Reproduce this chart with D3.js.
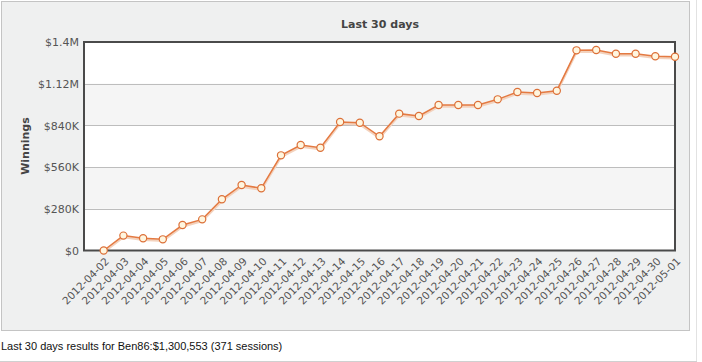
<!DOCTYPE html>
<html>
<head>
<meta charset="utf-8">
<script src="https://cdn.jsdelivr.net/npm/d3@7"></script>
<style>
  body { margin: 0; background: #fff; }
  svg text { font-family: Verdana, "DejaVu Sans", sans-serif; }
</style>
</head>
<body>
<div id="chart"></div>
<script>
// data
var dates = ["2012-04-02","2012-04-03","2012-04-04","2012-04-05","2012-04-06","2012-04-07",
  "2012-04-08","2012-04-09","2012-04-10","2012-04-11","2012-04-12","2012-04-13","2012-04-14",
  "2012-04-15","2012-04-16","2012-04-17","2012-04-18","2012-04-19","2012-04-20","2012-04-21",
  "2012-04-22","2012-04-23","2012-04-24","2012-04-25","2012-04-26","2012-04-27","2012-04-28",
  "2012-04-29","2012-04-30","2012-05-01"];
var winnings = [0, 100000, 82000, 75000, 171000, 209000, 344000, 440000, 418000, 639000,
  708000, 690000, 863000, 858000, 767000, 919000, 903000, 977000, 977000, 977000,
  1015000, 1064000, 1058000, 1073000, 1344000, 1346000, 1321000, 1321000, 1304000, 1300553];
var yTicks = [0, 280000, 560000, 840000, 1120000, 1400000];
var yTickLabels = ["$0", "$280K", "$560K", "$840K", "$1.12M", "$1.4M"];

var W = 702, H = 362;
var svg = d3.select("#chart").append("svg").attr("width", W).attr("height", H);

// outer container lines
svg.append("line").attr("x1", 696.5).attr("x2", 696.5).attr("y1", 0).attr("y2", 362)
  .style("stroke", "#e2e2e2");
// panel
svg.append("rect").attr("x", 1.5).attr("y", 1.5).attr("width", 688).attr("height", 329)
  .style("fill", "#eff0f0").style("stroke", "#c4c4c4");
svg.append("line").attr("x1", 0).attr("x2", 697).attr("y1", 361.5).attr("y2", 361.5)
  .style("stroke", "#d0d0d0");

var plotLeft = 84, plotRight = 675, plotTop = 42, plotBottom = 250.5;

var x = d3.scaleLinear().domain([-1, dates.length - 1]).range([plotLeft, plotRight]);
var y = d3.scaleLinear().domain([0, 1400000]).range([plotBottom, plotTop]);

// plot area with alternating bands
svg.append("rect").attr("x", plotLeft).attr("y", plotTop)
  .attr("width", plotRight - plotLeft).attr("height", plotBottom - plotTop)
  .style("fill", "#fff");
svg.append("g").selectAll("rect")
  .data([[280000, 560000], [840000, 1120000]])
  .enter().append("rect")
  .attr("x", plotLeft).attr("width", plotRight - plotLeft)
  .attr("y", function(d) { return y(d[1]); })
  .attr("height", function(d) { return y(d[0]) - y(d[1]); })
  .style("fill", "#f5f5f5");

// gridlines
svg.append("g").selectAll("line")
  .data(yTicks.slice(1, -1))
  .enter().append("line")
  .attr("x1", plotLeft).attr("x2", plotRight)
  .attr("y1", function(d) { return Math.round(y(d)) + 0.5; })
  .attr("y2", function(d) { return Math.round(y(d)) + 0.5; })
  .style("stroke", "#bdbdbd");

// y axis labels
var yAxis = d3.axisLeft(y).tickValues(yTicks)
  .tickFormat(function(d, i) { return yTickLabels[i]; })
  .tickSize(0).tickPadding(5);
var gy = svg.append("g").attr("transform", "translate(" + plotLeft + ",0)").call(yAxis);
gy.select(".domain").remove();
gy.selectAll("text").style("font-size", "11px").style("fill", "#555")
  .style("font-family", "Verdana, 'DejaVu Sans', sans-serif")
  .attr("dy", "0.35em");

// x axis labels
var xAxis = d3.axisBottom(x).tickValues(d3.range(dates.length))
  .tickFormat(function(i) { return dates[i]; }).tickSize(0);
var gx = svg.append("g").attr("transform", "translate(0," + plotBottom + ")").call(xAxis);
gx.select(".domain").remove();
gx.selectAll("text")
  .style("font-size", "10.5px").style("fill", "#555")
  .style("font-family", "Verdana, 'DejaVu Sans', sans-serif")
  .style("text-anchor", "end")
  .attr("dy", "0.35em")
  .attr("transform", "translate(3,9) rotate(-45)")
  .attr("x", 0).attr("y", 0);

// line
var line = d3.line()
  .x(function(d, i) { return x(i); })
  .y(function(d) { return y(d); });

svg.append("path").datum(winnings)
  .attr("d", line)
  .attr("transform", "translate(0,1.5)")
  .style("fill", "none").style("stroke", "#f3d2bd").style("stroke-width", 2.5);
svg.append("path").datum(winnings)
  .attr("d", line)
  .style("fill", "none").style("stroke", "#e47a42").style("stroke-width", 1.5);

// frame
svg.append("rect").attr("x", plotLeft).attr("y", plotTop)
  .attr("width", plotRight - plotLeft).attr("height", plotBottom - plotTop)
  .style("fill", "none").style("stroke", "#4a4a4a").style("stroke-width", 2);

// markers
svg.append("g").selectAll("circle")
  .data(winnings)
  .enter().append("circle")
  .attr("cx", function(d, i) { return x(i); })
  .attr("cy", function(d) { return y(d); })
  .attr("r", 3.6)
  .style("fill", "#fff6df").style("stroke", "#dc7038").style("stroke-width", 1.2);

// titles
svg.append("text").attr("x", 380).attr("y", 28).attr("text-anchor", "middle")
  .style("font-size", "11px").style("font-weight", "bold").style("fill", "#444")
  .text("Last 30 days");
svg.append("text").attr("transform", "translate(29,146) rotate(-90)")
  .attr("text-anchor", "middle")
  .style("font-size", "11px").style("font-weight", "bold").style("fill", "#444")
  .text("Winnings");

// footer
svg.append("text").attr("x", 1).attr("y", 350)
  .style("font-family", "'Liberation Sans', Arial, sans-serif")
  .style("font-size", "11px").style("fill", "#111")
  .text("Last 30 days results for Ben86:$1,300,553 (371 sessions)");
</script>
</body>
</html>
